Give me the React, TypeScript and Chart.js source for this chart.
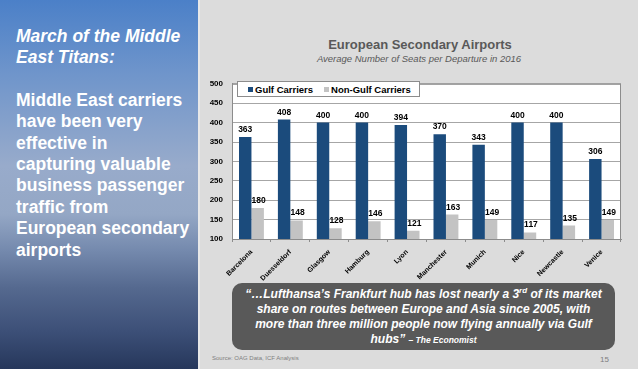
import React, { useEffect, useRef } from "react";
import { Chart, registerables } from "chart.js";

Chart.register(...registerables);

const cities = ["Barcelona", "Duesseldorf", "Glasgow", "Hamburg", "Lyon", "Manchester", "Munich", "Nice", "Newcastle", "Venice"];
const gulfCarriers = [363, 408, 400, 400, 394, 370, 343, 400, 400, 306];
const nonGulfCarriers = [180, 148, 128, 146, 121, 163, 149, 117, 135, 149];
const yMin = 100;
const yMax = 500;
const yStep = 50;

const GULF_COLOR = "#1b4b7c";
const NONGULF_COLOR = "#c3c3c3";
const FONT = "'Liberation Sans', Arial, sans-serif";

const plotBg = {
  id: "plotBg",
  beforeDraw(chart: any) {
    const { ctx, chartArea: a } = chart;
    ctx.save();
    ctx.fillStyle = "#ffffff";
    ctx.fillRect(a.left, a.top, a.right - a.left, a.bottom - a.top);
    ctx.restore();
  },
  afterDraw(chart: any) {
    const { ctx, chartArea: a } = chart;
    ctx.save();
    ctx.strokeStyle = "#8c8c8c";
    ctx.lineWidth = 1;
    ctx.strokeRect(a.left + 0.5, a.top + 0.5, a.right - a.left - 1, a.bottom - a.top);
    ctx.restore();
  },
};

const valueLabels = {
  id: "valueLabels",
  afterDatasetsDraw(chart: any) {
    const { ctx } = chart;
    ctx.save();
    ctx.font = `bold 8.5px ${FONT}`;
    ctx.fillStyle = "#000000";
    ctx.textAlign = "center";
    ctx.textBaseline = "bottom";
    chart.data.datasets.forEach((ds: any, di: number) => {
      const meta = chart.getDatasetMeta(di);
      meta.data.forEach((el: any, i: number) => {
        ctx.fillText(String(ds.data[i]), el.x + (di === 1 ? 1 : 0), el.y - 3);
      });
    });
    ctx.restore();
  },
};

function BarChart() {
  const ref = useRef<HTMLCanvasElement | null>(null);
  useEffect(() => {
    if (!ref.current) return;
    const chart = new Chart(ref.current, {
      type: "bar",
      data: {
        labels: cities,
        datasets: [
          { label: "Gulf Carriers", data: gulfCarriers, backgroundColor: GULF_COLOR, barPercentage: 1, categoryPercentage: 0.64 },
          { label: "Non-Gulf Carriers", data: nonGulfCarriers, backgroundColor: NONGULF_COLOR, barPercentage: 1, categoryPercentage: 0.64 },
        ],
      },
      options: {
        animation: false,
        responsive: false,
        maintainAspectRatio: false,
        layout: { padding: { top: 11, right: 17, left: 0, bottom: 0 } },
        plugins: {
          legend: { display: false },
          tooltip: { enabled: false },
          title: { display: false },
        },
        scales: {
          x: {
            offset: true,
            grid: { display: true, drawOnChartArea: false, drawTicks: true, tickLength: 3, color: "#8c8c8c", offset: true },
            border: { display: true, color: "#8c8c8c" },
            ticks: {
              minRotation: 45,
              maxRotation: 45,
              color: "#000000",
              font: { family: FONT, size: 7, weight: "bold" },
              padding: 6,
            },
            afterFit(scale: any) {
              scale.height = 51;
            },
          },
          y: {
            min: yMin,
            max: yMax,
            grid: { color: "#a6a6a6", drawTicks: false },
            border: { display: true, color: "#8c8c8c" },
            ticks: {
              stepSize: yStep,
              color: "#000000",
              font: { family: FONT, size: 8, weight: "bold" },
              padding: 9,
            },
            afterFit(scale: any) {
              scale.width = 32;
            },
          },
        },
      },
      plugins: [plotBg, valueLabels],
    });
    return () => chart.destroy();
  }, []);
  return <canvas ref={ref} width={438} height={220} style={{ position: "absolute", left: 200, top: 70, width: 438, height: 220 }} />;
}

const leftTitleLines = ["March of the Middle", "East Titans:"];
const leftBodyLines = [
  "Middle East carriers",
  "have been very",
  "effective in",
  "capturing valuable",
  "business passenger",
  "traffic from",
  "European secondary",
  "airports",
];

export default function App() {
  return (
    <div
      style={{
        position: "fixed",
        left: 0,
        top: 0,
        width: 638,
        height: 369,
        overflow: "hidden",
        background: "#dcdcdc",
        fontFamily: FONT,
      }}
    >
      <div
        style={{
          position: "absolute",
          left: 0,
          top: 0,
          width: 198,
          height: 369,
          background:
            "linear-gradient(to bottom, #4b80c8 0%, #6f95cb 20%, #98abcb 45%, #94a7c5 58%, #7489ad 68%, #55698f 78%, #3c4f77 90%, #26375b 100%)",
        }}
      />
      <div style={{ position: "absolute", left: 198, top: 0, width: 2, height: 369, background: "#e8e8e8" }} />
      <div
        style={{
          position: "absolute",
          left: 16,
          top: 25.5,
          color: "#ffffff",
          fontWeight: "bold",
          fontSize: 17.5,
          lineHeight: "21.4px",
          whiteSpace: "nowrap",
        }}
      >
        {leftTitleLines.map((l) => (
          <div key={l} style={{ fontStyle: "italic" }}>{l}</div>
        ))}
        <div style={{ height: 21.4 }} />
        {leftBodyLines.map((l) => (
          <div key={l}>{l}</div>
        ))}
      </div>

      <div
        style={{
          position: "absolute",
          left: 200,
          top: 37,
          width: 438,
          textAlign: "center",
          color: "#595959",
          fontWeight: "bold",
          fontSize: 13,
          lineHeight: "15px",
          paddingLeft: 1,
        }}
      >
        European Secondary Airports
      </div>
      <div
        style={{
          position: "absolute",
          left: 200,
          top: 53,
          width: 438,
          textAlign: "center",
          color: "#595959",
          fontStyle: "italic",
          fontSize: 9.5,
          lineHeight: "12px",
        }}
      >
        Average Number of Seats per Departure in 2016
      </div>

      <BarChart />

      <div
        style={{
          position: "absolute",
          left: 237,
          top: 81,
          width: 183,
          height: 16,
          boxSizing: "border-box",
          background: "#ffffff",
          border: "1px solid #8c8c8c",
          fontSize: 9.5,
          fontWeight: "bold",
          color: "#000000",
          display: "flex",
          alignItems: "center",
          paddingLeft: 10,
          whiteSpace: "nowrap",
        }}
      >
        <span style={{ display: "inline-block", width: 5, height: 5, background: GULF_COLOR, marginRight: 2 }} />
        <span>Gulf Carriers</span>
        <span style={{ display: "inline-block", width: 5, height: 5, background: NONGULF_COLOR, marginLeft: 11, marginRight: 2 }} />
        <span>Non-Gulf Carriers</span>
      </div>

      <div
        style={{
          position: "absolute",
          left: 232,
          top: 283,
          width: 383,
          height: 67,
          boxSizing: "border-box",
          background: "#595959",
          borderRadius: 10,
          color: "#ffffff",
          fontWeight: "bold",
          fontStyle: "italic",
          fontSize: 12,
          lineHeight: "15px",
          textAlign: "center",
          paddingTop: 4,
          whiteSpace: "nowrap",
        }}
      >
        <div>“…Lufthansa’s Frankfurt hub has lost nearly a 3<sup style={{ fontSize: 8, lineHeight: 0 }}>rd</sup> of its market</div>
        <div>share on routes between Europe and Asia since 2005, with</div>
        <div>more than three million people now flying annually via Gulf</div>
        <div>
          hubs” <span style={{ fontSize: 8.5 }}>– The Economist</span>
        </div>
      </div>

      <div style={{ position: "absolute", left: 212, top: 355, fontSize: 6, color: "#7f7f7f" }}>Source: OAG Data, ICF Analysis</div>
      <div style={{ position: "absolute", left: 600, top: 355, fontSize: 8, color: "#7f7f7f" }}>15</div>
    </div>
  );
}
